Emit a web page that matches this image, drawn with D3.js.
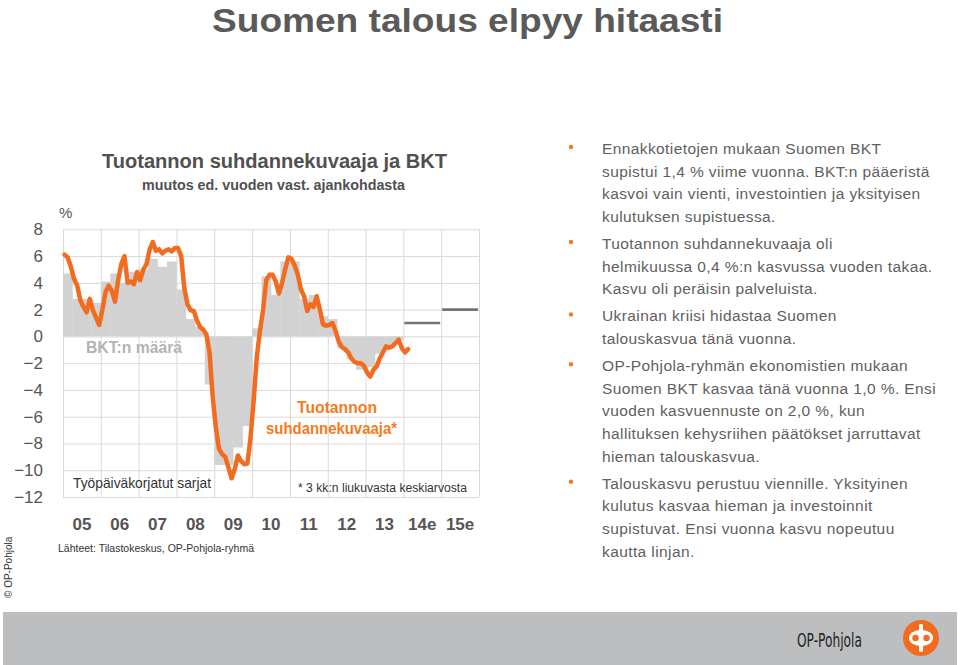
<!DOCTYPE html>
<html><head><meta charset="utf-8">
<script src="https://cdn.jsdelivr.net/npm/d3@7"></script>
<style>
body{margin:0;background:#fff;}
svg{display:block;font-family:"Liberation Sans",Arial,sans-serif;}
</style></head>
<body><svg id="c" width="960" height="665"></svg>
<script>
// ---- data ----
const yearLabels = ["05","06","07","08","09","10","11","12","13","14e","15e"];
const yTicks = [8,6,4,2,0,-2,-4,-6,-8,-10,-12];
// BKT, quarterly y/y %, 2005Q1..2013Q4
const gdpQuarterly = [
  4.7, 2.8, 2.8, 2.5,
  4.1, 4.7, 4.0, 4.8,
  5.0, 5.8, 5.2, 5.6,
  3.5, 1.3, 0.7, -3.6,
  -9.6, -9.6, -8.3, -6.7,
  0.6, 4.5, 3.1, 5.6,
  5.6, 2.8, 3.1, 1.5,
  1.3, -0.9, -1.7, -2.5,
  -2.3, -1.3, -0.8, -0.3
];
// forecasts (annual)
const forecastYears = ["14e","15e"];
const forecastValues = [1.0, 2.0];
// Tuotannon suhdannekuvaaja, 3-month moving average, monthly Jan 2005 .. Feb 2014
const indicatorMonthly = [
  6.1, 5.9, 5.2, 4.3, 3.8, 2.7, 2.2, 1.8, 2.8, 1.95, 1.4, 0.85,
  2.0, 3.3, 3.8, 3.4, 2.6, 4.2, 5.4, 6.0, 4.0, 4.1, 3.9, 4.8,
  4.2, 5.0, 5.4, 6.5, 7.05, 6.4, 6.5, 6.2, 6.4, 6.5, 6.35, 6.6,
  6.6, 6.0, 3.6, 2.4, 1.95, 1.9, 1.2, 0.7, 0.5, 0.15, -1.2, -4.5,
  -6.8, -8.4, -8.8, -9.0, -9.8, -10.6, -9.9, -8.9, -9.3, -9.55, -9.5, -7.6,
  -4.8, -1.5, 0.4, 2.0, 4.2, 4.6, 4.6, 4.1, 3.2, 4.0, 5.0, 5.9,
  5.8, 5.3, 4.6, 3.5, 3.0, 1.9, 2.4, 2.2, 3.0, 2.0, 0.9, 0.8,
  0.85, 1.0, 0.4, -0.4, -0.8, -0.95, -1.2, -1.65, -1.9, -2.0, -2.0, -2.2,
  -2.7, -3.0, -2.5, -2.25, -1.65, -1.2, -0.75, -0.85, -0.75, -0.5, -0.25, -0.87,
  -1.2, -0.95
];
const bullets = [
  ["Ennakkotietojen mukaan Suomen BKT","supistui 1,4 % viime vuonna. BKT:n pääeristä","kasvoi vain vienti, investointien ja yksityisen","kulutuksen supistuessa."],
  ["Tuotannon suhdannekuvaaja oli","helmikuussa 0,4 %:n kasvussa vuoden takaa.","Kasvu oli peräisin palveluista."],
  ["Ukrainan kriisi hidastaa Suomen","talouskasvua tänä vuonna."],
  ["OP-Pohjola-ryhmän ekonomistien mukaan","Suomen BKT kasvaa tänä vuonna 1,0 %. Ensi","vuoden kasvuennuste on 2,0 %, kun","hallituksen kehysriihen päätökset jarruttavat","hieman talouskasvua."],
  ["Talouskasvu perustuu viennille. Yksityinen","kulutus kasvaa hieman ja investoinnit","supistuvat. Ensi vuonna kasvu nopeutuu","kautta linjan."]
];

// ---- layout ----
const svg = d3.select("#c");
const L = 63, R = 479, T = 229.3, B = 497;
const orange = "#f26b1f";

const y = d3.scaleLinear().domain([-12, 8]).range([B, T]);
const xT = d3.scaleLinear().domain([2005, 2016]).range([L, R]);
const xBand = d3.scaleBand().domain(yearLabels).range([L, R]).padding(0);

// main title
svg.append("text").attr("x", 467.5).attr("y", 32).attr("text-anchor","middle")
  .attr("font-family","'Liberation Sans Narrow','Liberation Sans',Arial,sans-serif")
  .attr("font-size", 34).attr("font-weight","bold").attr("fill","#5a5a5a")
  .attr("textLength", 511).attr("lengthAdjust","spacingAndGlyphs")
  .text("Suomen talous elpyy hitaasti");

// chart titles
svg.append("text").attr("x", 102).attr("y", 168).attr("font-size", 20).attr("font-weight","bold")
  .attr("fill","#505050").attr("textLength",345).attr("lengthAdjust","spacingAndGlyphs")
  .text("Tuotannon suhdannekuvaaja ja BKT");
svg.append("text").attr("x", 142).attr("y", 190).attr("font-size", 14.5).attr("font-weight","bold")
  .attr("fill","#505050").attr("textLength",263).attr("lengthAdjust","spacingAndGlyphs")
  .text("muutos ed. vuoden vast. ajankohdasta");
svg.append("text").attr("x", 59).attr("y", 218).attr("font-size", 15).attr("fill","#555").text("%");

// gridlines
const gH = svg.append("g").attr("transform",`translate(${L},0)`)
  .call(d3.axisLeft(y).tickValues(yTicks).tickSize(-(R-L)).tickFormat(""));
const gV = svg.append("g").attr("transform",`translate(0,${B})`)
  .call(d3.axisBottom(xT).tickValues(d3.range(2005, 2017)).tickSize(-(B-T)).tickFormat(""));
[gH,gV].forEach(g=>{ g.select(".domain").remove(); g.selectAll("line").attr("stroke","#d9d9d9").attr("stroke-width",1); });

// GDP bars (quarterly steps)
svg.append("g").selectAll("rect").data(gdpQuarterly).join("rect")
  .attr("x", (d,i)=>xT(2005 + i/4))
  .attr("width", (d,i)=>xT(2005 + (i+1)/4) - xT(2005 + i/4) + 0.3)
  .attr("y", d=>y(Math.max(0,d)))
  .attr("height", d=>Math.abs(y(d)-y(0)))
  .attr("fill","#d2d2d2");

// forecasts
svg.append("g").selectAll("line").data(forecastValues).join("line")
  .attr("x1",(d,i)=>xBand(forecastYears[i])+1)
  .attr("x2",(d,i)=>xBand(forecastYears[i])+xBand.bandwidth()-1)
  .attr("y1",d=>y(d)).attr("y2",d=>y(d))
  .attr("stroke","#737373").attr("stroke-width",2.6);

// indicator line
const line = d3.line().x((d,i)=>xT(2005 + (i+0.5)/12)).y(d=>y(d));
svg.append("path").datum(indicatorMonthly).attr("d", line)
  .attr("fill","none").attr("stroke",orange).attr("stroke-width",4.5)
  .attr("stroke-linejoin","round").attr("stroke-linecap","round");

// y axis labels
const ya = svg.append("g").attr("transform","translate(45,0)")
  .call(d3.axisLeft(y).tickValues(yTicks).tickSize(0).tickPadding(2));
ya.select(".domain").remove();
ya.selectAll("text").attr("font-size",17).attr("fill","#555").attr("font-family","'Liberation Sans',Arial,sans-serif");

// x axis labels
const xa = svg.append("g").attr("transform","translate(0,512)")
  .call(d3.axisBottom(xBand).tickSize(0).tickPadding(6));
xa.select(".domain").remove();
xa.selectAll("text").attr("font-size",17).attr("font-weight","bold").attr("fill","#555")
  .attr("font-family","'Liberation Sans',Arial,sans-serif");

// annotations in chart
svg.append("text").attr("x",86).attr("y",353).attr("font-size",16).attr("font-weight","bold")
  .attr("fill","#b3b3b3").attr("textLength",96).attr("lengthAdjust","spacingAndGlyphs").text("BKT:n määrä");
svg.append("text").attr("x",297).attr("y",413).attr("font-size",16.5).attr("font-weight","bold")
  .attr("fill","#f47b20").attr("textLength",80).attr("lengthAdjust","spacingAndGlyphs").text("Tuotannon");
svg.append("text").attr("x",266).attr("y",433.5).attr("font-size",16.5).attr("font-weight","bold")
  .attr("fill","#f47b20").attr("textLength",131).attr("lengthAdjust","spacingAndGlyphs").text("suhdannekuvaaja*");
svg.append("text").attr("x",73).attr("y",488).attr("font-size",15).attr("fill","#333")
  .attr("textLength",138).attr("lengthAdjust","spacingAndGlyphs").text("Työpäiväkorjatut sarjat");
svg.append("text").attr("x",298).attr("y",491.5).attr("font-size",12.5).attr("fill","#333")
  .attr("textLength",169).attr("lengthAdjust","spacingAndGlyphs").text("* 3 kk:n liukuvasta keskiarvosta");
svg.append("text").attr("x",58).attr("y",551.5).attr("font-size",11).attr("fill","#333")
  .attr("textLength",196).attr("lengthAdjust","spacingAndGlyphs").text("Lähteet: Tilastokeskus, OP-Pohjola-ryhmä");

// vertical copyright
svg.append("text").attr("transform","translate(12,598) rotate(-90)").attr("font-size",10)
  .attr("fill","#333").text("© OP-Pohjola");

// right text panel
let by = 154;
const tp = svg.append("g");
bullets.forEach((para,pi)=>{
  tp.append("circle").attr("cx",571).attr("cy",by-7).attr("r",2.2).attr("fill","#f07a2a");
  para.forEach((ln,li)=>{
    tp.append("text").attr("x",602).attr("y",by).attr("font-size",15.5).attr("letter-spacing",0.4)
      .attr("fill","#606060").text(ln);
    by += 22.6;
  });
  by += 4.6;
});

// footer
svg.append("rect").attr("x",3).attr("y",612).attr("width",954).attr("height",53).attr("fill","#bdbec0");
svg.append("text").attr("x",797).attr("y",647).attr("font-size",19).attr("fill","#1e1e1e")
  .attr("font-family","'DejaVu Sans Condensed','Liberation Sans Narrow',sans-serif")
  .attr("textLength",65).attr("lengthAdjust","spacingAndGlyphs").text("OP-Pohjola");
const lg = svg.append("g").attr("transform","translate(921,638)");
lg.append("circle").attr("r",18).attr("fill","#f26b1f");
lg.append("ellipse").attr("rx",12).attr("ry",8).attr("fill","#fff");
lg.append("rect").attr("x",-2).attr("y",-14).attr("width",4).attr("height",28).attr("rx",1.5).attr("fill","#fff");
lg.append("circle").attr("cx",-5.5).attr("cy",0).attr("r",3.2).attr("fill","#f26b1f");
lg.append("circle").attr("cx",5.5).attr("cy",0).attr("r",3.2).attr("fill","#f26b1f");
</script></body></html>
